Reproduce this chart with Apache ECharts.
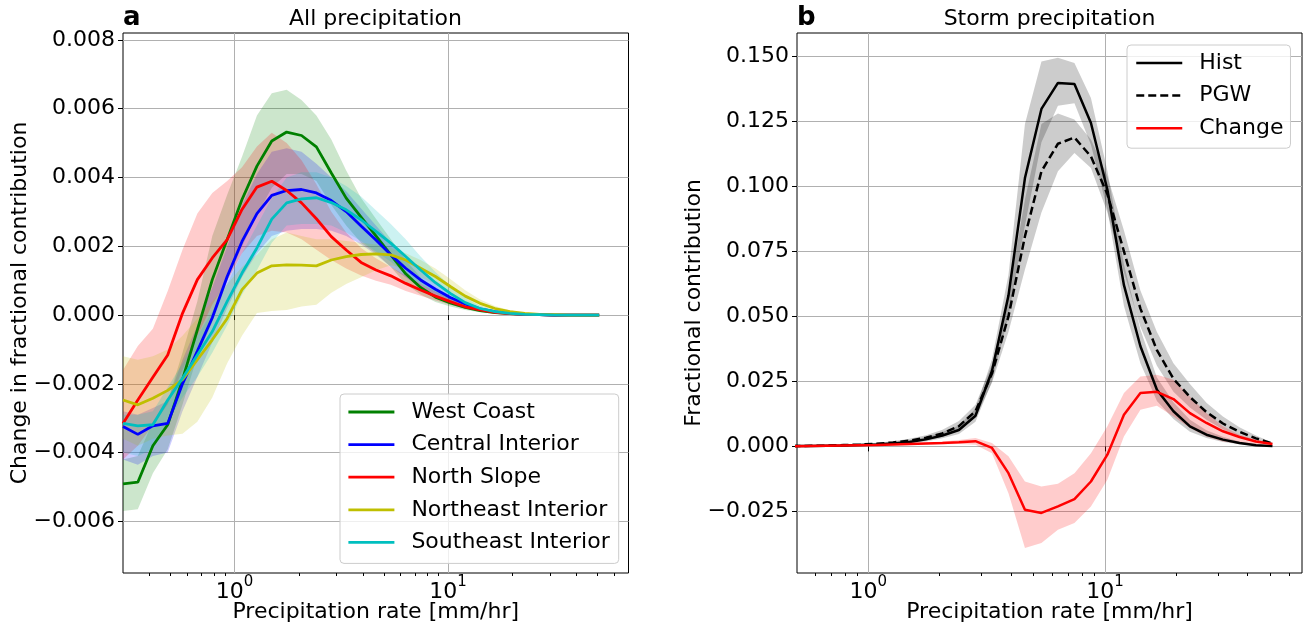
<!DOCTYPE html>
<html>
<head>
<meta charset="utf-8">
<title>Fractional contribution of precipitation</title>
<script src="https://cdn.jsdelivr.net/npm/echarts@6/dist/echarts.min.js"></script>
<style>
  html, body { margin: 0; padding: 0; background: #fff; }
  #chart { width: 1303px; height: 625px; }
</style>
</head>
<body>
<div id="chart"></div>
<script>
var FONT = 'DejaVu Sans';

// precipitation rate bin centres [mm/hr]
var rates = [0.300, 0.352, 0.414, 0.486, 0.570, 0.669, 0.786, 0.923, 1.083, 1.272, 1.493,
  1.753, 2.058, 2.416, 2.838, 3.332, 3.912, 4.592, 5.391, 6.330, 7.432, 8.726,
  10.24, 12.03, 14.12, 16.58, 19.47, 22.86, 26.84, 31.51, 37.00, 43.44, 51.00];

// ---- panel a: change in fractional contribution, per region (line, upper, lower)
var westCoast = [-4.91e-3, -4.86e-3, -3.80e-3, -3.19e-3, -1.88e-3, -0.43e-3, 1.03e-3, 2.20e-3, 3.36e-3, 4.33e-3, 5.06e-3,
  5.32e-3, 5.22e-3, 4.89e-3, 4.13e-3, 3.40e-3, 2.85e-3, 2.30e-3, 1.75e-3, 1.20e-3, 0.80e-3, 0.52e-3,
  0.35e-3, 0.22e-3, 0.13e-3, 0.07e-3, 0.04e-3, 0.02e-3, 0.01e-3, 0, 0, 0, 0];
var westCoastHi = [-4.2e-3, -4.1e-3, -3.1e-3, -2.5e-3, -1.1e-3, 0.4e-3, 2.3e-3, 3.5e-3, 4.6e-3, 5.8e-3, 6.45e-3,
  6.55e-3, 6.25e-3, 5.8e-3, 5.1e-3, 4.2e-3, 3.4e-3, 2.8e-3, 2.2e-3, 1.6e-3, 1.1e-3, 0.72e-3,
  0.48e-3, 0.3e-3, 0.18e-3, 0.1e-3, 0.05e-3, 0.03e-3, 0.015e-3, 0, 0, 0, 0];
var westCoastLo = [-5.7e-3, -5.65e-3, -4.6e-3, -3.9e-3, -2.6e-3, -1.2e-3, -0.2e-3, 1.0e-3, 2.0e-3, 2.9e-3, 3.7e-3,
  4.1e-3, 4.1e-3, 3.9e-3, 3.2e-3, 2.6e-3, 2.1e-3, 1.8e-3, 1.4e-3, 0.9e-3, 0.6e-3, 0.38e-3,
  0.25e-3, 0.15e-3, 0.08e-3, 0.04e-3, 0.02e-3, 0.01e-3, 0.005e-3, 0, 0, 0, 0];

var central = [-3.24e-3, -3.47e-3, -3.22e-3, -3.15e-3, -2.0e-3, -1.05e-3, -0.08e-3, 1.12e-3, 2.14e-3, 2.95e-3, 3.48e-3,
  3.62e-3, 3.65e-3, 3.55e-3, 3.33e-3, 3.01e-3, 2.59e-3, 2.18e-3, 1.75e-3, 1.36e-3, 1.02e-3, 0.75e-3,
  0.51e-3, 0.32e-3, 0.18e-3, 0.10e-3, 0.05e-3, 0.02e-3, 0.01e-3, 0, 0, 0, 0];
var centralHi = [-2.8e-3, -2.9e-3, -2.7e-3, -2.5e-3, -1.3e-3, -0.3e-3, 0.8e-3, 2.0e-3, 3.2e-3, 4.1e-3, 4.75e-3,
  4.85e-3, 4.75e-3, 4.4e-3, 4.0e-3, 3.6e-3, 3.1e-3, 2.6e-3, 2.1e-3, 1.65e-3, 1.25e-3, 0.92e-3,
  0.63e-3, 0.4e-3, 0.23e-3, 0.12e-3, 0.06e-3, 0.03e-3, 0.01e-3, 0, 0, 0, 0];
var centralLo = [-4.2e-3, -4.35e-3, -4.1e-3, -4.0e-3, -2.8e-3, -1.8e-3, -0.8e-3, 0.2e-3, 1.1e-3, 1.8e-3, 2.3e-3,
  2.45e-3, 2.5e-3, 2.5e-3, 2.45e-3, 2.3e-3, 2.05e-3, 1.75e-3, 1.4e-3, 1.1e-3, 0.8e-3, 0.58e-3,
  0.4e-3, 0.25e-3, 0.13e-3, 0.07e-3, 0.03e-3, 0.01e-3, 0.005e-3, 0, 0, 0, 0];

var northSlope = [-3.15e-3, -2.47e-3, -1.81e-3, -1.16e-3, 0.05e-3, 1.03e-3, 1.66e-3, 2.19e-3, 3.07e-3, 3.72e-3, 3.89e-3,
  3.62e-3, 3.26e-3, 2.80e-3, 2.28e-3, 1.89e-3, 1.53e-3, 1.31e-3, 1.14e-3, 0.92e-3, 0.73e-3, 0.55e-3,
  0.39e-3, 0.24e-3, 0.15e-3, 0.08e-3, 0.04e-3, 0.02e-3, 0.01e-3, 0, 0, 0, 0];
var northSlopeHi = [-1.6e-3, -0.9e-3, -0.4e-3, 0.7e-3, 1.9e-3, 2.95e-3, 3.55e-3, 3.9e-3, 4.3e-3, 4.9e-3, 5.3e-3,
  5.0e-3, 4.5e-3, 3.8e-3, 3.0e-3, 2.4e-3, 1.95e-3, 1.65e-3, 1.4e-3, 1.15e-3, 0.9e-3, 0.68e-3,
  0.48e-3, 0.3e-3, 0.19e-3, 0.1e-3, 0.05e-3, 0.025e-3, 0.01e-3, 0, 0, 0, 0];
var northSlopeLo = [-4.2e-3, -3.8e-3, -3.2e-3, -2.6e-3, -1.6e-3, -0.6e-3, 0.3e-3, 1.0e-3, 1.8e-3, 2.3e-3, 2.45e-3,
  2.4e-3, 2.2e-3, 1.9e-3, 1.6e-3, 1.35e-3, 1.15e-3, 1.0e-3, 0.88e-3, 0.7e-3, 0.56e-3, 0.42e-3,
  0.3e-3, 0.18e-3, 0.11e-3, 0.06e-3, 0.03e-3, 0.015e-3, 0.005e-3, 0, 0, 0, 0];

var northeast = [-2.47e-3, -2.61e-3, -2.42e-3, -2.19e-3, -1.88e-3, -1.30e-3, -0.72e-3, -0.10e-3, 0.74e-3, 1.22e-3, 1.43e-3,
  1.46e-3, 1.45e-3, 1.43e-3, 1.60e-3, 1.70e-3, 1.76e-3, 1.78e-3, 1.75e-3, 1.60e-3, 1.36e-3, 1.12e-3,
  0.83e-3, 0.55e-3, 0.34e-3, 0.19e-3, 0.10e-3, 0.05e-3, 0.02e-3, 0.01e-3, 0, 0, 0];
var northeastHi = [-1.2e-3, -1.3e-3, -1.2e-3, -1.0e-3, -0.6e-3, -0.1e-3, 0.4e-3, 0.9e-3, 1.4e-3, 1.75e-3, 2.2e-3,
  2.4e-3, 2.3e-3, 2.2e-3, 2.2e-3, 2.15e-3, 2.1e-3, 2.05e-3, 1.95e-3, 1.8e-3, 1.6e-3, 1.35e-3,
  1.05e-3, 0.72e-3, 0.45e-3, 0.26e-3, 0.14e-3, 0.07e-3, 0.03e-3, 0.01e-3, 0, 0, 0];
var northeastLo = [-3.6e-3, -3.8e-3, -3.6e-3, -3.5e-3, -3.45e-3, -3.1e-3, -2.4e-3, -1.4e-3, -0.6e-3, 0.06e-3, 0.12e-3,
  0.15e-3, 0.25e-3, 0.3e-3, 0.65e-3, 0.9e-3, 1.1e-3, 1.3e-3, 1.45e-3, 1.35e-3, 1.1e-3, 0.9e-3,
  0.62e-3, 0.4e-3, 0.24e-3, 0.13e-3, 0.07e-3, 0.03e-3, 0.01e-3, 0.005e-3, 0, 0, 0];

var southeast = [-3.15e-3, -3.22e-3, -3.19e-3, -2.47e-3, -1.84e-3, -1.16e-3, -0.48e-3, 0.40e-3, 1.22e-3, 1.95e-3, 2.79e-3,
  3.26e-3, 3.38e-3, 3.41e-3, 3.27e-3, 3.06e-3, 2.77e-3, 2.43e-3, 2.09e-3, 1.70e-3, 1.31e-3, 0.94e-3,
  0.63e-3, 0.36e-3, 0.19e-3, 0.10e-3, 0.05e-3, 0.02e-3, 0.01e-3, 0, 0, 0, 0];
var southeastHi = [-2.9e-3, -2.9e-3, -2.8e-3, -2.1e-3, -1.4e-3, -0.6e-3, 0.1e-3, 0.9e-3, 1.8e-3, 2.6e-3, 3.4e-3,
  4.0e-3, 4.15e-3, 4.15e-3, 4.0e-3, 3.75e-3, 3.45e-3, 3.05e-3, 2.65e-3, 2.2e-3, 1.7e-3, 1.25e-3,
  0.85e-3, 0.5e-3, 0.27e-3, 0.14e-3, 0.07e-3, 0.03e-3, 0.01e-3, 0, 0, 0, 0];
var southeastLo = [-4.0e-3, -4.1e-3, -3.9e-3, -3.1e-3, -2.4e-3, -1.8e-3, -1.1e-3, -0.3e-3, 0.6e-3, 1.3e-3, 2.1e-3,
  2.6e-3, 2.65e-3, 2.65e-3, 2.6e-3, 2.4e-3, 2.15e-3, 1.85e-3, 1.55e-3, 1.2e-3, 0.9e-3, 0.65e-3,
  0.42e-3, 0.24e-3, 0.12e-3, 0.06e-3, 0.03e-3, 0.01e-3, 0.005e-3, 0, 0, 0, 0];

// ---- panel b: storm precipitation
var hist = [0, 0, 0, 0.0001, 0.0001, 0.0002, 0.0003, 0.0005, 0.0007, 0.0011, 0.0017,
  0.0027, 0.0042, 0.0063, 0.0118, 0.0290, 0.0580, 0.1032, 0.1298, 0.1398, 0.1394, 0.1244,
  0.0987, 0.0620, 0.0385, 0.0218, 0.0135, 0.0077, 0.0045, 0.0026, 0.0013, 0.0004, 0.0001];
var histHi = [0.0001, 0.0001, 0.0001, 0.0002, 0.0002, 0.0004, 0.0005, 0.0008, 0.0011, 0.0016, 0.0024,
  0.0036, 0.0055, 0.0080, 0.0145, 0.0335, 0.0660, 0.1240, 0.1480, 0.1495, 0.1475, 0.1340,
  0.1060, 0.0700, 0.0450, 0.0265, 0.0170, 0.0102, 0.0062, 0.0037, 0.0019, 0.0008, 0.0002];
var histLo = [0, 0, 0, 0, 0, 0.0001, 0.0001, 0.0002, 0.0004, 0.0007, 0.0011,
  0.0019, 0.0031, 0.0048, 0.0095, 0.0250, 0.0500, 0.0850, 0.1170, 0.1310, 0.1320, 0.1160,
  0.0910, 0.0540, 0.0320, 0.0175, 0.0105, 0.0056, 0.0032, 0.0017, 0.0008, 0.0002, 0];

var pgw = [0, 0, 0.0001, 0.0001, 0.0002, 0.0003, 0.0005, 0.0007, 0.0010, 0.0015, 0.0022,
  0.0033, 0.0050, 0.0078, 0.0135, 0.0280, 0.0500, 0.0808, 0.1058, 0.1164, 0.1188, 0.1115,
  0.0970, 0.0750, 0.0530, 0.0370, 0.0260, 0.0190, 0.0132, 0.0088, 0.0056, 0.0031, 0.0011];
var pgwHi = [0.0001, 0.0001, 0.0002, 0.0002, 0.0003, 0.0005, 0.0007, 0.0010, 0.0014, 0.0020, 0.0029,
  0.0043, 0.0064, 0.0098, 0.0160, 0.0315, 0.0580, 0.0950, 0.1240, 0.1280, 0.1257, 0.1180,
  0.1040, 0.0830, 0.0600, 0.0440, 0.0320, 0.0240, 0.0168, 0.0115, 0.0074, 0.0042, 0.0015];
var pgwLo = [0, 0, 0, 0, 0.0001, 0.0002, 0.0003, 0.0004, 0.0006, 0.0010, 0.0015,
  0.0024, 0.0037, 0.0060, 0.0110, 0.0245, 0.0440, 0.0680, 0.0900, 0.1058, 0.1128, 0.1071,
  0.0900, 0.0670, 0.0460, 0.0310, 0.0210, 0.0150, 0.0102, 0.0065, 0.0040, 0.0021, 0.0007];

var change = [0, 0, 0, 0, 0.0001, 0.0002, 0.0003, 0.0004, 0.0005, 0.0007, 0.0009,
  0.0011, 0.0013, 0.0016, 0.0020, -0.0006, -0.0103, -0.0244, -0.0256, -0.0231, -0.0203, -0.0135,
  -0.0032, 0.0122, 0.0205, 0.0210, 0.0182, 0.0128, 0.0090, 0.0058, 0.0036, 0.0019, 0.0009];
var changeHi = [0.0002, 0.0002, 0.0002, 0.0003, 0.0003, 0.0004, 0.0005, 0.0006, 0.0007, 0.0009, 0.0012,
  0.0015, 0.0019, 0.0025, 0.0032, 0.0013, -0.0038, -0.0135, -0.0154, -0.0144, -0.0103, -0.0026,
  0.0077, 0.0205, 0.0269, 0.0276, 0.0256, 0.0192, 0.0128, 0.0077, 0.0045, 0.0026, 0.0013];
var changeLo = [-0.0002, -0.0002, -0.0002, -0.0002, -0.0001, 0, 0.0001, 0.0002, 0.0003, 0.0004, 0.0006,
  0.0007, 0.0008, 0.0009, 0.0006, -0.0026, -0.0180, -0.0391, -0.0372, -0.0321, -0.0295, -0.0231,
  -0.0128, 0.0038, 0.0141, 0.0156, 0.0115, 0.0071, 0.0038, 0.0019, 0.0010, 0.0004, 0.0001];

// tick positions
var leftTicks = [-0.006, -0.004, -0.002, 0, 0.002, 0.004, 0.006, 0.008];
var rightTicks = [-0.025, 0, 0.025, 0.05, 0.075, 0.1, 0.125, 0.15];
var majorX = [1, 10];
var minorXa = [0.4, 0.5, 0.6, 0.7, 0.8, 0.9, 2, 3, 4, 5, 6, 7, 8, 9, 20, 30, 40, 50, 60];
var minorXb = [0.6, 0.7, 0.8, 0.9, 2, 3, 4, 5, 6, 7, 8, 9, 20, 30, 40, 50, 60];

function fmt3(v) {
  return (v < -1e-12 ? '\u2212' : '') + Math.abs(v).toFixed(3);
}

function powLabel(v) {
  var e = Math.round(Math.log(v) / Math.LN10);
  return '{b|10}{s|' + e + '}';
}

function bandSeries(xi, yi, hi, lo, color, op) {
  return {
    type: 'custom', xAxisIndex: xi, yAxisIndex: yi, clip: true, silent: true, z: 1,
    data: rates.map(function (r, i) { return [r, lo[i], hi[i]]; }),
    encode: { x: 0, y: [1, 2] },
    renderItem: function (params, api) {
      if (params.dataIndex !== 0) return null;
      var pts = [];
      for (var i = 0; i < rates.length; i++) pts.push(api.coord([rates[i], hi[i]]));
      for (var j = rates.length - 1; j >= 0; j--) pts.push(api.coord([rates[j], lo[j]]));
      return { type: 'polygon', shape: { points: pts }, style: { fill: color, opacity: op } };
    }
  };
}

function lineSeries(name, xi, yi, vals, color, width, dash) {
  return {
    name: name, type: 'line', xAxisIndex: xi, yAxisIndex: yi, z: 3,
    data: rates.map(function (r, i) { return [r, vals[i]]; }),
    symbol: 'none', silent: true,
    lineStyle: { color: color, width: width, type: dash || 'solid' },
    itemStyle: { color: color }
  };
}

function xMain(gi, min, max) {
  return {
    type: 'log', logBase: 10, gridIndex: gi, min: min, max: max, position: 'bottom',
    name: 'Precipitation rate [mm/hr]', nameLocation: 'middle', nameGap: 28, nameMoveOverlap: false,
    nameTextStyle: { fontSize: 22, color: '#000', fontFamily: FONT },
    axisLine: { show: false },
    axisTick: { show: true, length: 5, customValues: majorX, lineStyle: { color: '#000' } },
    axisLabel: {
      customValues: majorX, margin: 2, formatter: powLabel,
      rich: {
        b: { fontSize: 22, fontFamily: FONT, color: '#000', lineHeight: 28, verticalAlign: 'bottom' },
        s: { fontSize: 15, fontFamily: FONT, color: '#000', lineHeight: 16, verticalAlign: 'top' }
      }
    },
    splitLine: { show: true, lineStyle: { color: '#b0b0b0', width: 1 } }
  };
}

function xMinor(gi, min, max, vals) {
  return {
    type: 'log', logBase: 10, gridIndex: gi, min: min, max: max, position: 'bottom', offset: 0,
    axisLine: { show: false }, axisLabel: { show: false }, splitLine: { show: false },
    axisTick: { show: true, length: 3, customValues: vals, lineStyle: { color: '#000' } }
  };
}

function yAxisFor(gi, min, max, ticks, name) {
  return {
    type: 'value', gridIndex: gi, min: min, max: max,
    name: name, nameLocation: 'middle', nameGap: 92, nameMoveOverlap: false,
    nameTextStyle: { fontSize: 22, color: '#000', fontFamily: FONT },
    axisLine: { show: false },
    axisTick: { show: true, length: 5, customValues: ticks, lineStyle: { color: '#000' } },
    axisLabel: { customValues: ticks, fontSize: 22, color: '#000', fontFamily: FONT, margin: 8, formatter: fmt3 },
    splitLine: { show: true, lineStyle: { color: '#b0b0b0', width: 1 } }
  };
}

function legendBox(names, left, top, pad, width) {
  return {
    data: names, orient: 'vertical', left: left, top: top, selectedMode: false,
    itemWidth: 46, itemHeight: 14, itemGap: 10.6, padding: pad,
    backgroundColor: 'rgba(255,255,255,0.8)', borderColor: '#cccccc', borderWidth: 1, borderRadius: 4,
    itemStyle: { opacity: 0 }, lineStyle: { width: width },
    textStyle: { fontSize: 22, lineHeight: 22, color: '#000', fontFamily: FONT, padding: [0, 0, 0, 12] }
  };
}

var titleStyle = { fontSize: 22, fontWeight: 'normal', color: '#000', fontFamily: FONT };
var tagStyle = { fontSize: 26, fontWeight: 'bold', color: '#000', fontFamily: FONT };

var chart = echarts.init(document.getElementById('chart'));
chart.setOption({
  animation: false,
  backgroundColor: '#fff',
  title: [
    { text: 'a', left: 123, top: 5, padding: 0, textStyle: tagStyle },
    { text: 'All precipitation', left: 375.5, top: 8, padding: 0, textAlign: 'center', textStyle: titleStyle },
    { text: 'b', left: 797, top: 5, padding: 0, textStyle: tagStyle },
    { text: 'Storm precipitation', left: 1049.5, top: 8, padding: 0, textAlign: 'center', textStyle: titleStyle }
  ],
  grid: [
    { left: 123, top: 33, width: 505.5, height: 540, show: true, borderColor: '#000', borderWidth: 1,
      backgroundColor: 'transparent', containLabel: false, outerBoundsMode: 'none' },
    { left: 797, top: 33, width: 505, height: 540, show: true, borderColor: '#000', borderWidth: 1,
      backgroundColor: 'transparent', containLabel: false, outerBoundsMode: 'none' }
  ],
  xAxis: [
    xMain(0, 0.3, 70), xMain(1, 0.5, 68),
    xMinor(0, 0.3, 70, minorXa), xMinor(1, 0.5, 68, minorXb)
  ],
  yAxis: [
    yAxisFor(0, -0.0075, 0.0082, leftTicks, 'Change in fractional contribution'),
    yAxisFor(1, -0.0487, 0.159, rightTicks, 'Fractional contribution')
  ],
  legend: [
    legendBox(['West Coast', 'Central Interior', 'North Slope', 'Northeast Interior', 'Southeast Interior'],
      340, 394, [7, 9, 10, 7], 2.8),
    legendBox(['Hist', 'PGW', 'Change'], 1127, 45, [7, 7, 9, 8], 2.5)
  ],
  series: [
    bandSeries(0, 0, westCoastHi, westCoastLo, '#008000', 0.2),
    bandSeries(0, 0, centralHi, centralLo, '#0000ff', 0.2),
    bandSeries(0, 0, northSlopeHi, northSlopeLo, '#ff0000', 0.2),
    bandSeries(0, 0, northeastHi, northeastLo, '#bfbf00', 0.2),
    bandSeries(0, 0, southeastHi, southeastLo, '#00bfbf', 0.2),
    lineSeries('West Coast', 0, 0, westCoast, '#008000', 2.8),
    lineSeries('Central Interior', 0, 0, central, '#0000ff', 2.8),
    lineSeries('North Slope', 0, 0, northSlope, '#ff0000', 2.8),
    lineSeries('Northeast Interior', 0, 0, northeast, '#bfbf00', 2.8),
    lineSeries('Southeast Interior', 0, 0, southeast, '#00bfbf', 2.8),

    bandSeries(1, 1, histHi, histLo, '#000000', 0.2),
    bandSeries(1, 1, pgwHi, pgwLo, '#000000', 0.2),
    bandSeries(1, 1, changeHi, changeLo, '#ff0000', 0.2),
    lineSeries('Hist', 1, 1, hist, '#000000', 2.5),
    lineSeries('PGW', 1, 1, pgw, '#000000', 2.5, [8, 4]),
    lineSeries('Change', 1, 1, change, '#ff0000', 2.5)
  ]
});
</script>
</body>
</html>
